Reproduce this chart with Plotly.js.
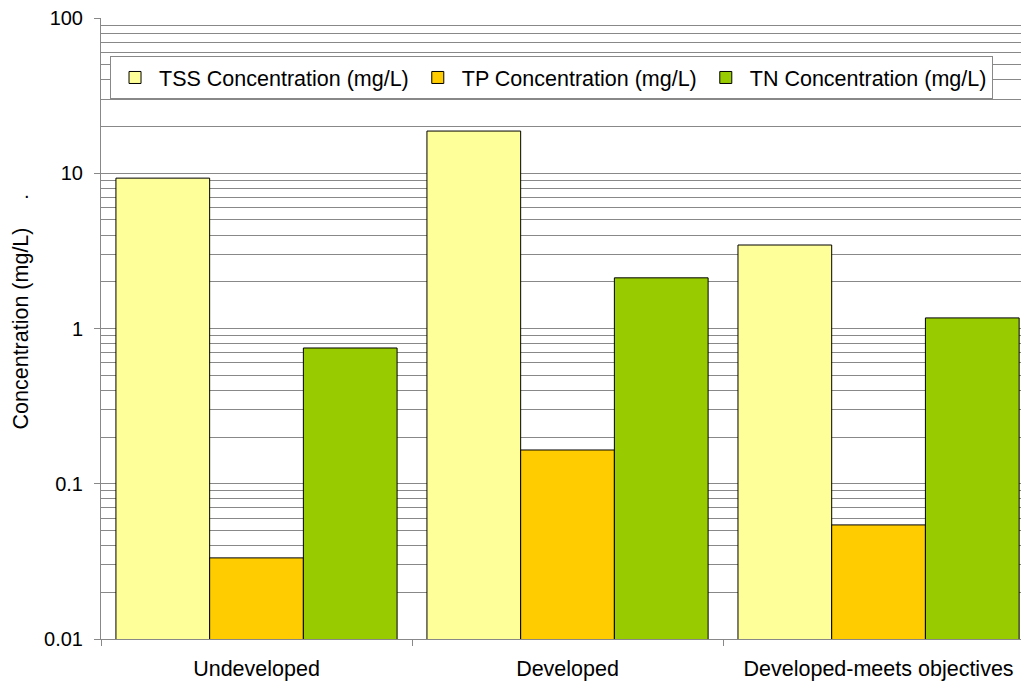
<!DOCTYPE html>
<html>
<head>
<meta charset="utf-8">
<script src="https://cdn.plot.ly/plotly-3.0.1.min.js"></script>
<style>html,body{margin:0;padding:0;background:#fff;}#chart{width:1021px;height:682px;}</style>
</head>
<body>
<div id="chart"></div>
<script>
const categories = ["Undeveloped", "Developed", "Developed-meets objectives"];
const seriesNames = ["TSS Concentration (mg/L)", "TP Concentration (mg/L)", "TN Concentration (mg/L)"];
const tssValues = [9.3, 18.7, 3.45];
const tpValues = [0.0333, 0.165, 0.0543];
const tnValues = [0.749, 2.12, 1.17];
const seriesColors = ["#FFFF99", "#FFCC00", "#99CC00"];
const yTickVals = [0.01, 0.1, 1, 10, 100];
const yTickText = ["0.01", "0.1", "1", "10", "100"];

const minorVals = [];
for (let e = -2; e < 2; e++) {
  for (let d = 2; d <= 9; d++) minorVals.push(d * Math.pow(10, e));
}

const allValues = [tssValues, tpValues, tnValues];
const traces = allValues.map((vals, i) => ({
  type: "bar",
  name: seriesNames[i],
  x: categories,
  y: vals,
  marker: {color: seriesColors[i], line: {color: "#000", width: 1}},
  hoverinfo: "skip"
}));

const fam = "Liberation Sans, Arial, sans-serif";
const tickFont = {family: fam, size: 20, color: "#000"};
const bigFont = {family: fam, size: 21.5, color: "#000"};

const layout = {
  width: 1021, height: 682,
  margin: {l: 101, r: 0, t: 18, b: 43},
  paper_bgcolor: "#fff", plot_bgcolor: "#fff",
  font: tickFont,
  barmode: "group",
  bargap: 0.096,
  bargroupgap: 0,
  showlegend: true,
  legend: {
    orientation: "h", x: 0.0098, y: 0.9388, xanchor: "left", yanchor: "top",
    bgcolor: "#fff", bordercolor: "#888", borderwidth: 1,
    itemwidth: 38,
    font: bigFont
  },
  xaxis: {
    type: "category", range: [-0.5, 2.458],
    showline: true, linecolor: "#888", linewidth: 1,
    ticks: "outside", tickson: "boundaries", ticklen: 6, tickcolor: "#888",
    ticklabelstandoff: 10,
    showgrid: false, zeroline: false,
    tickfont: bigFont
  },
  yaxis: {
    type: "log", range: [-2, 2],
    tickvals: yTickVals, ticktext: yTickText,
    ticks: "outside", ticklen: 6, tickcolor: "#888",
    ticklabelstandoff: 7,
    showline: true, linecolor: "#888", linewidth: 1,
    showgrid: true, gridcolor: "#888", gridwidth: 1,
    minor: {tickvals: minorVals, showgrid: true, gridcolor: "#888", gridwidth: 1, ticks: ""},
    zeroline: false,
    tickfont: tickFont,
    title: {text: "Concentration (mg/L)", font: bigFont, standoff: 9}
  },
  annotations: [{
    text: ".", xref: "paper", yref: "paper", x: -0.08, y: 0.721, showarrow: false,
    font: tickFont, xanchor: "center", yanchor: "middle"
  }]
};

Plotly.newPlot("chart", traces, layout, {staticPlot: true});
</script>
</body>
</html>
